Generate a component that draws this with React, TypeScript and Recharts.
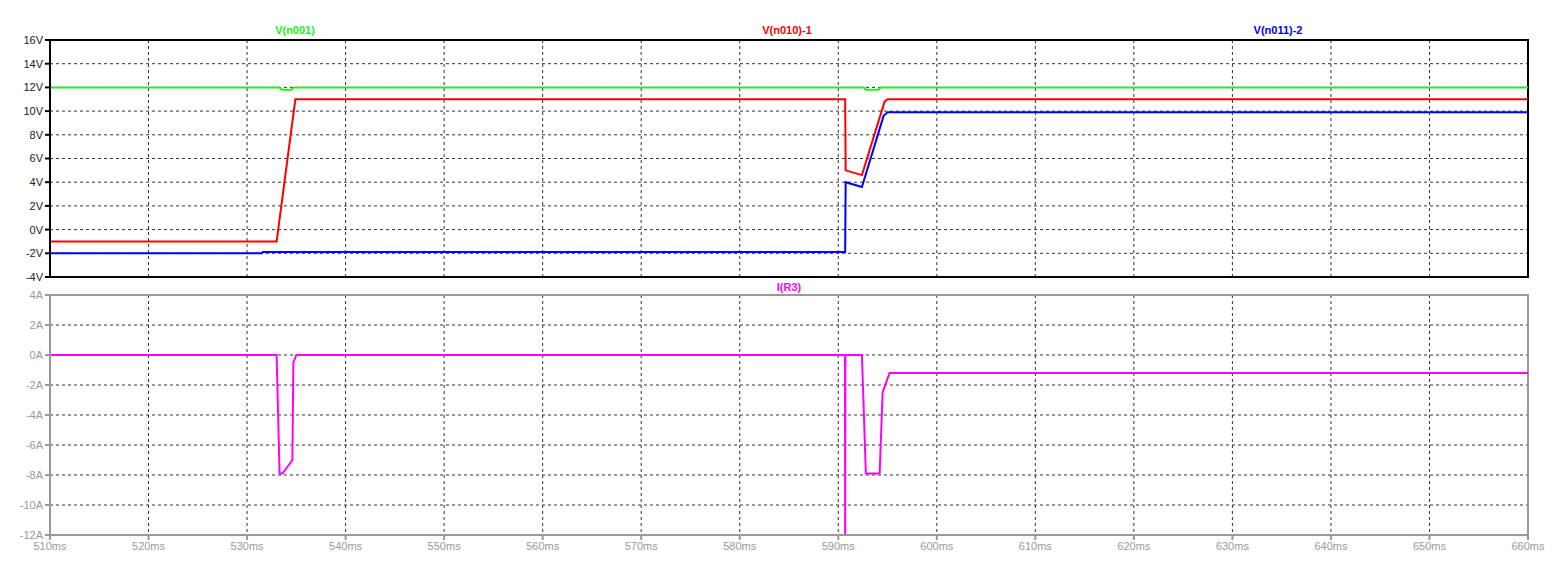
import React from 'react';
import { CartesianGrid, Line, LineChart, ReferenceArea, XAxis, YAxis } from 'recharts';

// time axis (ms)
const timeTicks = [510, 520, 530, 540, 550, 560, 570, 580, 590, 600, 610, 620, 630, 640, 650, 660];
const voltTicks = [-4, -2, 0, 2, 4, 6, 8, 10, 12, 14, 16];
const ampTicks = [-12, -10, -8, -6, -4, -2, 0, 2, 4];

// V(n001)
const n001Time = [510, 533.3, 533.5, 534.5, 534.7, 592.6, 592.8, 594.1, 594.3, 660];
const n001Volt = [12, 12, 11.8, 11.8, 12, 12, 11.8, 11.8, 12, 12];

// V(n010)-1
const n010Time = [510, 533.0, 534.9, 590.7, 590.75, 592.4, 594.7, 595.0, 660];
const n010Volt = [-1, -1, 11, 11, 5.0, 4.6, 10.8, 11, 11];

// V(n011)-2
const n011Time = [510, 531.5, 531.6, 590.7, 590.75, 592.4, 594.6, 595.0, 660];
const n011Volt = [-2, -2, -1.9, -1.9, 4.0, 3.6, 9.6, 9.9, 9.9];

// I(R3)
const r3Time = [510, 533.0, 533.3, 533.6, 534.6, 534.7, 535.0, 590.68, 590.7, 590.72, 592.4, 592.8, 594.2, 594.5, 595.2, 660];
const r3Amp = [0, 0, -7.9, -7.9, -7, -0.5, 0, 0, -14, 0, 0, -7.9, -7.9, -2.5, -1.2, -1.2];

const zip = (t: number[], v: number[]) => t.map((time, i) => ({ time, value: v[i] }));

const FONT = '"Liberation Sans", Arial, sans-serif';
const WIDTH = 1560;

const titleStyle = (left: number, top: number, color: string): React.CSSProperties => ({
  position: 'absolute',
  left,
  top,
  transform: 'translateX(-50%)',
  color,
  fontSize: 11,
  fontWeight: 'bold',
  fontFamily: FONT,
  whiteSpace: 'nowrap',
});

export default function App() {
  return (
    <div style={{ position: 'absolute', left: 0, top: 0, width: WIDTH, height: 588, background: '#fff' }}>
      <div style={titleStyle(295, 24, '#22ee22')}>V(n001)</div>
      <div style={titleStyle(787, 24, '#ff0000')}>V(n010)-1</div>
      <div style={titleStyle(1278, 24, '#0000ff')}>V(n011)-2</div>
      <div style={titleStyle(789, 281, '#ff00ff')}>I(R3)</div>

      <div style={{ position: 'absolute', left: 0, top: 0 }}>
        <LineChart width={WIDTH} height={288} margin={{ top: 40, right: 32, left: 0, bottom: 11 }}>
          <CartesianGrid stroke="#333" strokeDasharray="3 3" />
          <XAxis
            type="number"
            dataKey="time"
            domain={[510, 660]}
            ticks={timeTicks}
            hide
            allowDuplicatedCategory={false}
          />
          <YAxis
            type="number"
            domain={[-4, 16]}
            ticks={voltTicks}
            width={50}
            tickFormatter={(v) => `${v}V`}
            tick={{ fill: '#222', fontSize: 11, fontFamily: FONT }}
            axisLine={{ stroke: '#000', strokeWidth: 2 }}
            tickLine={{ stroke: '#000', strokeWidth: 2 }}
            tickSize={5}
          />
          <ReferenceArea x1={510} x2={660} y1={-4} y2={16} fill="none" stroke="#000" strokeWidth={2} />
          <Line data={zip(n001Time, n001Volt)} dataKey="value" stroke="#22ee22" strokeWidth={2} dot={false} type="linear" isAnimationActive={false} />
          <Line data={zip(n011Time, n011Volt)} dataKey="value" stroke="#0000ff" strokeWidth={2} dot={false} type="linear" isAnimationActive={false} />
          <Line data={zip(n010Time, n010Volt)} dataKey="value" stroke="#ff0000" strokeWidth={2} dot={false} type="linear" isAnimationActive={false} />
        </LineChart>
      </div>

      <div style={{ position: 'absolute', left: 0, top: 288 }}>
        <LineChart width={WIDTH} height={300} margin={{ top: 7, right: 32, left: 0, bottom: 0 }}>
          <CartesianGrid stroke="#333" strokeDasharray="3 3" />
          <XAxis
            type="number"
            dataKey="time"
            domain={[510, 660]}
            ticks={timeTicks}
            tickFormatter={(v) => `${v}ms`}
            tick={{ fill: '#999', fontSize: 11, fontFamily: FONT }}
            axisLine={{ stroke: '#999', strokeWidth: 2 }}
            tickLine={{ stroke: '#999', strokeWidth: 2 }}
            tickSize={5}
            height={53}
            allowDuplicatedCategory={false}
          />
          <YAxis
            type="number"
            domain={[-12, 4]}
            ticks={ampTicks}
            allowDataOverflow
            width={50}
            tickFormatter={(v) => `${v}A`}
            tick={{ fill: '#999', fontSize: 11, fontFamily: FONT }}
            axisLine={{ stroke: '#999', strokeWidth: 2 }}
            tickLine={{ stroke: '#999', strokeWidth: 2 }}
            tickSize={5}
          />
          <ReferenceArea x1={510} x2={660} y1={-12} y2={4} fill="none" stroke="#999" strokeWidth={2} />
          <Line data={zip(r3Time, r3Amp)} dataKey="value" stroke="#ff00ff" strokeWidth={2} dot={false} type="linear" isAnimationActive={false} />
        </LineChart>
      </div>
    </div>
  );
}
